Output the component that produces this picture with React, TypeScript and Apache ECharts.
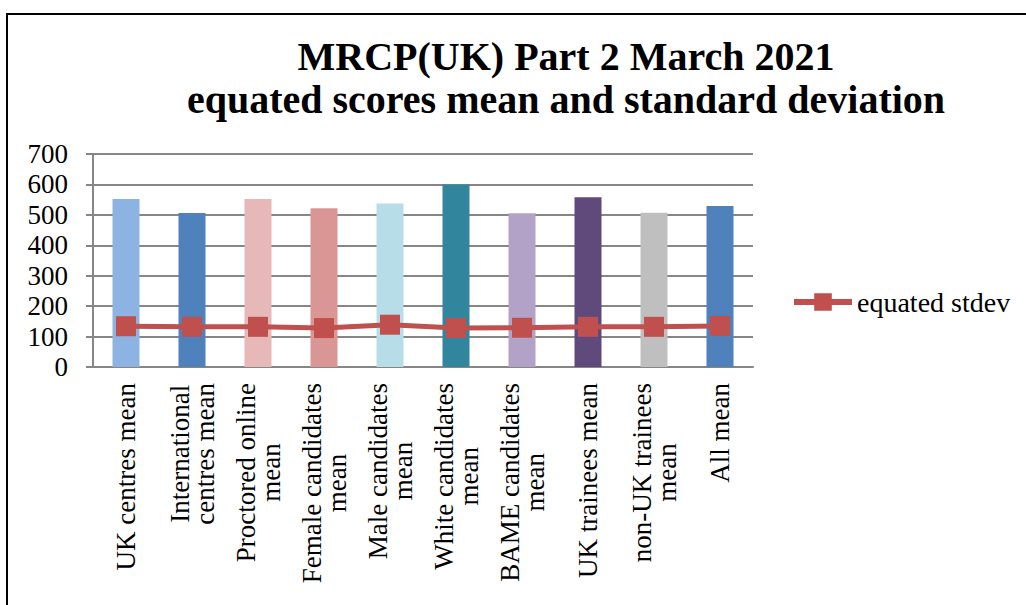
import React, { useEffect, useRef } from "react";
import * as echarts from "echarts";

const categories = [
  "UK centres mean",
  "International\ncentres mean",
  "Proctored online\nmean",
  "Female candidates\nmean",
  "Male candidates\nmean",
  "White candidates\nmean",
  "BAME candidates\nmean",
  "UK trainees mean",
  "non-UK trainees\nmean",
  "All mean",
];
const meanValues = [552, 506, 552, 522, 537, 600, 505, 558, 507, 529];
const stdevValues = [134, 132, 132, 128, 139, 128, 129, 132, 132, 135];
const barColors = [
  "#8DB3E2",
  "#4F81BD",
  "#E6B9B8",
  "#D99694",
  "#B7DEE8",
  "#31859C",
  "#B3A2C7",
  "#604A7B",
  "#BFBFBF",
  "#4F81BD",
];
const yTicks = [0, 100, 200, 300, 400, 500, 600, 700];

const FONT = "'Liberation Serif', 'Times New Roman', serif";

export default function App() {
  const ref = useRef<HTMLDivElement>(null);
  useEffect(() => {
    document.body.style.margin = "0";
    const chart = echarts.init(ref.current!, null, { renderer: "svg" });
    chart.setOption({
      animation: false,
      backgroundColor: "#ffffff",
      title: {
        text: "MRCP(UK) Part 2 March 2021\nequated scores mean and standard deviation",
        left: 561,
        top: 30,
        textAlign: "center",
        textStyle: {
          fontFamily: FONT,
          fontWeight: "bold",
          fontSize: 40,
          lineHeight: 43,
          color: "#000000",
        },
      },
      graphic: [
        {
          type: "rect",
          shape: { x: 7, y: 14, width: 1040, height: 620 },
          style: { fill: "none", stroke: "#000000", lineWidth: 2 },
          silent: true,
        },
      ],
      legend: {
        data: ["equated stdev"],
        left: 786,
        top: 283,
        itemWidth: 58,
        itemHeight: 22,
        lineStyle: { width: 6 },
        textStyle: { fontFamily: FONT, fontSize: 28, color: "#000000" },
        itemGap: 4,
      },
      grid: { left: 93, right: 273, top: 154, bottom: 238, containLabel: false },
      xAxis: {
        type: "category",
        data: categories,
        axisLine: { lineStyle: { color: "#868686", width: 2 } },
        axisTick: { show: false },
        axisLabel: {
          interval: 0,
          rotate: 90,
          margin: 16,
          color: "#000000",
          fontFamily: FONT,
          fontSize: 27,
          lineHeight: 25,
          formatter: (v: string) =>
            v
              .split("\n")
              .map((l) => `{a|${l}}`)
              .join("\n"),
          rich: {
            a: {
              align: "center",
              fontFamily: FONT,
              fontSize: 27,
              lineHeight: 25,
              color: "#000000",
            },
          },
        },
      },
      yAxis: {
        type: "value",
        min: yTicks[0],
        max: yTicks[yTicks.length - 1],
        interval: 100,
        axisLine: { show: true, lineStyle: { color: "#868686", width: 2 } },
        axisTick: { show: true, length: 7, lineStyle: { color: "#868686", width: 2 } },
        splitLine: { lineStyle: { color: "#868686", width: 2 } },
        axisLabel: {
          margin: 25,
          color: "#000000",
          fontFamily: FONT,
          fontSize: 27,
        },
      },
      series: [
        {
          name: "mean",
          type: "bar",
          barWidth: 27,
          data: meanValues.map((v, i) => ({ value: v, itemStyle: { color: barColors[i] } })),
        },
        {
          name: "equated stdev",
          type: "line",
          data: stdevValues,
          symbol: "rect",
          symbolSize: 20,
          itemStyle: { color: "#C0504D" },
          lineStyle: { color: "#C0504D", width: 5 },
        },
      ],
    });
    return () => chart.dispose();
  }, []);
  return (
    <div
      ref={ref}
      style={{ position: "absolute", left: 0, top: 0, width: 1026, height: 605 }}
    />
  );
}
